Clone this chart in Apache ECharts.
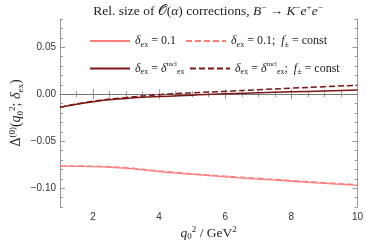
<!DOCTYPE html>
<html><head><meta charset="utf-8">
<script src="https://cdn.jsdelivr.net/npm/echarts@6/dist/echarts.min.js"></script>
<style>html,body{margin:0;padding:0;background:#fff}#c{width:366px;height:248px}</style>
</head><body><div id="c"></div>
<script>
// q0^2 values (GeV^2)
const q2 = [1, 2, 3, 4, 5, 6, 7, 8, 9, 10];
// delta_ex = 0.1
const light = [-0.0765, -0.0770, -0.0790, -0.0823, -0.0853, -0.0880, -0.0903, -0.0926, -0.0948, -0.0970];
// delta_ex = 0.1; f = const
const lightConst = [-0.0762, -0.0765, -0.0782, -0.0815, -0.0845, -0.0871, -0.0894, -0.0917, -0.0940, -0.0962];
// delta_ex = incl
const dark = [-0.0140, -0.0080, -0.0045, -0.0025, -0.0010, 0.0005, 0.0015, 0.0025, 0.0035, 0.0045];
// delta_ex = incl; f = const
const darkConst = [-0.0138, -0.0075, -0.0035, -0.0005, 0.0015, 0.0030, 0.0048, 0.0064, 0.0080, 0.0095];
const yTicks = [-0.10, -0.05, 0.00, 0.05];
const xTicks = [2, 4, 6, 8, 10];
const zeroLine = 0;

const serif = '"Liberation Serif","DejaVu Serif",serif';
const sans = '"Liberation Sans",Arial,sans-serif';
const LC = '#ff7f7f', DC = '#7a1616';

function mkRich(fs, ss) {
  const b = {fontFamily: serif, fontWeight: 'normal', color: '#222'};
  return {
    m: Object.assign({fontSize: fs, lineHeight: fs + 3}, b),
    i: Object.assign({fontSize: fs, lineHeight: fs + 3, fontStyle: 'italic'}, b),
    sb: Object.assign({fontSize: ss, lineHeight: ss, verticalAlign: 'bottom'}, b),
    sp: Object.assign({fontSize: ss, lineHeight: ss, verticalAlign: 'top'}, b),
    ss: Object.assign({fontSize: ss - 1, lineHeight: ss, verticalAlign: 'top'}, b),
    c: Object.assign({fontSize: fs, lineHeight: fs + 3}, b, {fontFamily: '"DejaVu Sans",serif'})
  };
}
const legRich = mkRich(12, 8);
const legText = {
  d01: '{i|δ}{sb|ex}{m| = 0.1}',
  d01c: '{i|δ}{sb|ex}{m| = 0.1;  }{i|f}{sb|±}{m| = const}',
  dinc: '{i|δ}{sb|ex}{m| = }{i|δ}{ss|incl}{sb|ex}',
  dincc: '{i|δ}{sb|ex}{m| = }{i|δ}{ss|incl}{sb|ex}{m|;  }{i|f}{sb|±}{m| = const}'
};

function pairs(ys) { return q2.map((x, k) => [x, ys[k]]); }
function mkLegend(name, left, top) {
  return {
    data: [name], left: left, top: top, itemWidth: 40, itemHeight: 12, itemGap: 4,
    padding: 0, selectedMode: false,
    itemStyle: {color: 'rgba(0,0,0,0)', borderWidth: 0, opacity: 0},
    formatter: n => legText[n],
    textStyle: {rich: legRich, padding: 0}
  };
}

const chart = echarts.init(document.getElementById('c'), null, {renderer: 'canvas'});
const tickCol = '#999';
chart.setOption({
  animation: false,
  backgroundColor: '#fff',
  title: {
    text: '{m|Rel. size of }{c|𝒪}{m|(}{i|α}{m|) corrections, }{i|B}{sp|−}{m| → }{i|K}{sp|−}{i|e}{sp|+}{i|e}{sp|−}',
    left: 208, top: 3, textAlign: 'center', padding: 0,
    textStyle: {fontWeight: 'normal', rich: mkRich(13.5, 9)}
  },
  legend: [
    mkLegend('d01', 89, 35),
    mkLegend('d01c', 185, 35),
    mkLegend('dinc', 89, 61),
    mkLegend('dincc', 189, 61)
  ],
  grid: {left: 55, right: 7, top: 19, bottom: 41},
  xAxis: [
    {
      type: 'value', position: 'bottom', min: 1, max: 10, interval: 0.5,
      axisLine: {show: true, lineStyle: {color: tickCol}}, splitLine: {show: false},
      name: '{i|q}{sb|0}{sp|2}{m| / GeV}{sp|2}', nameLocation: 'middle', nameGap: 18,
      nameTextStyle: {rich: mkRich(13.5, 9)},
      axisTick: {inside: true, length: 3, lineStyle: {color: tickCol}},
      axisLabel: {show: false}
    },
    {
      type: 'value', position: 'bottom', min: 1, max: 10,
      axisLine: {show: false}, splitLine: {show: false},
      axisTick: {inside: true, length: 5, customValues: xTicks, lineStyle: {color: tickCol}},
      axisLabel: {customValues: xTicks, fontFamily: sans, fontSize: 10, color: '#333', margin: 5,
        formatter: v => String(v)}
    },
    {
      type: 'value', position: 'top', min: 1, max: 10, interval: 0.5,
      axisLine: {show: true, lineStyle: {color: tickCol}}, splitLine: {show: false},
      axisTick: {inside: true, length: 3, lineStyle: {color: tickCol}},
      axisLabel: {show: false}
    },
    {
      type: 'value', position: 'top', min: 1, max: 10,
      axisLine: {show: false}, splitLine: {show: false},
      axisTick: {inside: true, length: 5, customValues: xTicks, lineStyle: {color: tickCol}},
      axisLabel: {show: false}
    }
  ],
  yAxis: [
    {
      type: 'value', position: 'left', min: -0.12, max: 0.08, interval: 0.01,
      axisLine: {show: true, lineStyle: {color: tickCol}}, splitLine: {show: false},
      axisTick: {inside: true, length: 3, lineStyle: {color: tickCol}},
      axisLabel: {show: false},
      name: '{m|Δ}{sp|(0)}{m|(}{i|q}{sb|0}{sp|2}{m|; }{i|δ}{sb|ex}{m|)}',
      nameLocation: 'middle', nameGap: 35,
      nameTextStyle: {rich: mkRich(14, 9)}
    },
    {
      type: 'value', position: 'left', min: -0.12, max: 0.08,
      axisLine: {show: false}, splitLine: {show: false},
      axisTick: {inside: true, length: 5, customValues: yTicks, lineStyle: {color: tickCol}},
      axisLabel: {customValues: yTicks, fontFamily: sans, fontSize: 10, color: '#333', margin: 4,
        formatter: v => v.toFixed(2).replace('-', '−')}
    },
    {
      type: 'value', position: 'right', min: -0.12, max: 0.08, interval: 0.01,
      axisLine: {show: true, lineStyle: {color: tickCol}}, splitLine: {show: false},
      axisTick: {inside: true, length: 3, lineStyle: {color: tickCol}},
      axisLabel: {show: false}
    },
    {
      type: 'value', position: 'right', min: -0.12, max: 0.08,
      axisLine: {show: false}, splitLine: {show: false},
      axisTick: {inside: true, length: 5, customValues: yTicks, lineStyle: {color: tickCol}},
      axisLabel: {show: false}
    }
  ],
  series: [
    {name: 'd01', type: 'line', data: pairs(light), smooth: true, symbol: 'none',
      lineStyle: {color: LC, width: 1.3}, itemStyle: {color: LC}, z: 3,
      markLine: {silent: true, symbol: 'none', label: {show: false},
        lineStyle: {color: '#777', width: 1, type: 'solid'}, data: [{yAxis: zeroLine}]}},
    {name: 'd01c', type: 'line', data: pairs(lightConst), smooth: true, symbol: 'none',
      lineStyle: {color: LC, width: 1.3, type: [6, 3]}, itemStyle: {color: LC}, z: 4},
    {name: 'dinc', type: 'line', data: pairs(dark), smooth: true, symbol: 'none',
      lineStyle: {color: DC, width: 1.5}, itemStyle: {color: DC}, z: 5},
    {name: 'dincc', type: 'line', data: pairs(darkConst), smooth: true, symbol: 'none',
      lineStyle: {color: DC, width: 1.5, type: [6, 3]}, itemStyle: {color: DC}, z: 6}
  ]
});
</script></body></html>
